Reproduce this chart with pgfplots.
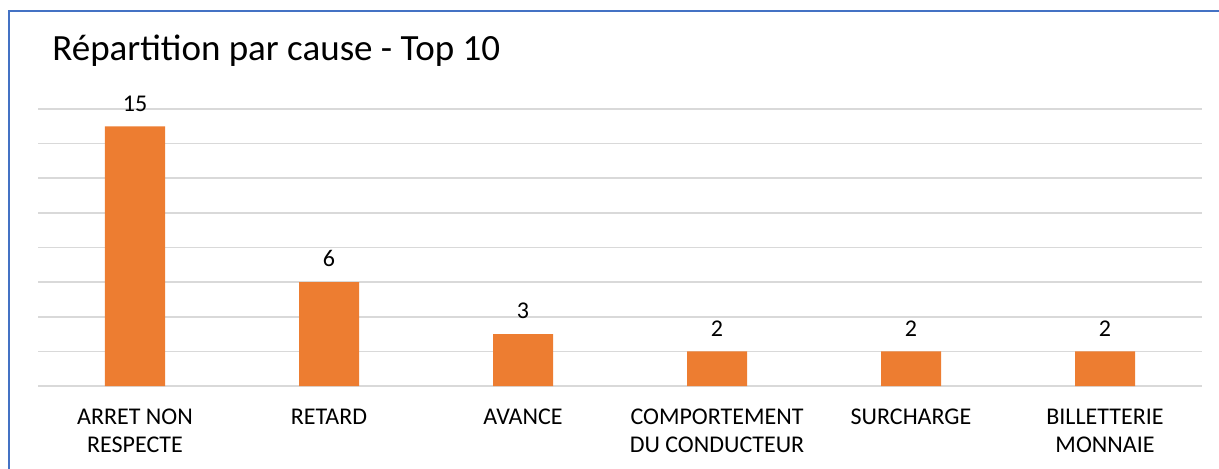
\documentclass[border=0pt]{standalone}
\usepackage{fontspec}
\setmainfont{Carlito}
\usepackage{pgfplots}
\pgfplotsset{compat=1.18}
\definecolor{barorange}{HTML}{ED7D31}
\definecolor{gridgray}{HTML}{D9D9D9}
\definecolor{frameblue}{HTML}{4472C4}
\begin{document}
\begin{tikzpicture}
\begin{axis}[
  at={(0,0)}, anchor=south west,
  scale only axis,
  width=582pt, height=138.5pt,
  xmin=-0.5, xmax=5.5,
  ymin=0, ymax=16,
  ytick={0,2,...,16},
  yticklabels={},
  ymajorgrids,
  major grid style={gridgray, line width=0.8pt},
  major tick length=0pt,
  axis line style={draw=none},
  xtick={0,1,2,3,4,5},
  xticklabels={{ARRET NON\\RESPECTE},{RETARD},{AVANCE},{COMPORTEMENT\\DU CONDUCTEUR},{SURCHARGE},{BILLETTERIE\\MONNAIE}},
  xticklabel style={font=\fontsize{12pt}{14pt}\selectfont, align=center, anchor=north, yshift=-8pt},
  ybar, bar width=30pt,
  /pgf/number format/assume math mode=true,
  nodes near coords,
  every node near coord/.append style={font=\fontsize{12pt}{14pt}\selectfont, yshift=4pt},
  clip=false,
]
\addplot[fill=barorange, draw=none] coordinates {(0,15) (1,6) (2,3) (3,2) (4,2) (5,2)};
\end{axis}
\path[use as bounding box] (-19pt,-41pt) rectangle (590.5pt,193pt);
\draw[frameblue, line width=1pt] (-14.5pt,-45pt) -- (-14.5pt,187.5pt) -- (595pt,187.5pt);
\node[anchor=base west, inner sep=0pt, font=\fontsize{18.5pt}{22pt}\selectfont] at (7pt,163pt) {Répartition par cause - Top 10};
\end{tikzpicture}
\end{document}
